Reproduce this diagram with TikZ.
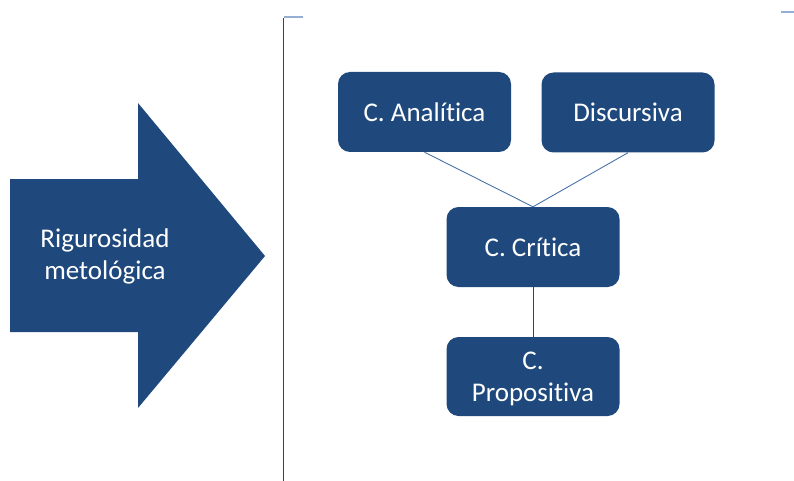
\documentclass[tikz,border=0pt]{standalone}
\usepackage{fontspec}
\setmainfont{Carlito}[Ligatures=NoCommon]
\definecolor{boxblue}{HTML}{1F497D}
\definecolor{linkblue}{HTML}{4A72A8}
\definecolor{tickblue}{HTML}{95AED3}
\begin{document}
\begin{tikzpicture}[x=1pt,y=-1pt,
  box/.style={draw=none,fill=boxblue,rounded corners=12pt,minimum width=173pt,minimum height=80pt,
    text=white,font=\fontsize{27}{32}\selectfont,align=center,inner sep=0pt},
  link/.style={draw=linkblue,line width=0.9pt}]
\useasboundingbox (0,0) rectangle (794,481);
% big arrow
\fill[boxblue] (10,179) -- (138,179) -- (138,103) -- (265,256) -- (138,408) -- (138,332) -- (10,332) -- cycle;
\node[text=white,font=\fontsize{27}{32}\selectfont,align=center] (rig) at (105,256) {Rigurosidad\\metológica};
% bracket
\draw[boxblue,line width=1.6pt] (283.5,481) -- (283.5,18);
\draw[tickblue,line width=2pt] (283.5,17) -- (303,17);
\draw[tickblue,line width=2pt] (781,12) -- (794,12);
% boxes
\node[box] (ana) at (424.5,112) {C. Analítica};
\node[box] (dis) at (628,112.5) {Discursiva};
\node[box] (cri) at (533,247) {C. Crítica};
\node[box,minimum height=79pt] (pro) at (533,376.5) {};
\node[text=white,font=\fontsize{27}{32}\selectfont,align=center,inner sep=0pt] (protext) at (533,379) {C.\\Propositiva};
% connectors
\draw[link] (ana.south) -- (cri.north);
\draw[link] (dis.south) -- (cri.north);
\draw[draw=boxblue,line width=1pt] (cri.south) -- (pro.north);
\end{tikzpicture}
\end{document}
